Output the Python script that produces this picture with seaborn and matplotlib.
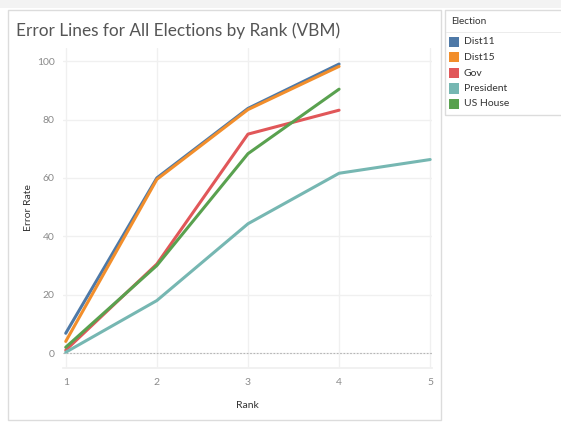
import numpy as np
import pandas as pd
import matplotlib
matplotlib.use("Agg")
import matplotlib.pyplot as plt
from matplotlib.patches import Rectangle
import seaborn as sns

# ----------------------------
# Data
# ----------------------------
elections = ["Dist11", "Dist15", "Gov", "President", "US House"]
ranks = [1, 2, 3, 4, 5]
dist11 = [6.8, 60.0, 83.8, 99.0]
dist15 = [4.0, 59.5, 83.4, 98.2]
gov = [1.0, 30.5, 75.0, 83.2]
president = [0.3, 18.0, 44.3, 61.6, 66.3]
us_house = [2.0, 30.0, 68.3, 90.4]

colors = ["#4e79a7", "#f28e2b", "#e15759", "#76b7b2", "#59a14f"]

series = [dist11, dist15, gov, president, us_house]
rows = []
for name, vals in zip(elections, series):
    for r, v in zip(ranks, vals):
        rows.append({"Election": name, "Rank": r, "Error Rate": v})
df = pd.DataFrame(rows)
palette = dict(zip(elections, colors))

# ----------------------------
# Plot
# ----------------------------
sns.set_theme(style="white")
plt.rcParams["font.family"] = ["Lato", "DejaVu Sans"]

W, H = 561, 423
fig = plt.figure(figsize=(W / 100, H / 100), dpi=100)
fig.patch.set_facecolor("white")

# card outlines
fig.patches.append(Rectangle((0, 1 - 8 / H), 1, 8 / H, transform=fig.transFigure,
                             facecolor="#f3f3f3", edgecolor="none", zorder=0))
fig.patches.append(Rectangle((7.5 / W, 1 - 419.5 / H), 433 / W, 409.5 / H, transform=fig.transFigure,
                             facecolor="none", edgecolor="#dcdcdc", lw=1, zorder=0))
fig.patches.append(Rectangle((445 / W, 1 - 115 / H), 120 / W, 105 / H, transform=fig.transFigure,
                             facecolor="none", edgecolor="#dcdcdc", lw=1, zorder=0))
fig.patches.append(Rectangle((446 / W, 1 - 33 / H), 118 / W, 1.2 / H, transform=fig.transFigure,
                             facecolor="#ececec", edgecolor="none", zorder=0))

ax = fig.add_axes([63 / W, 1 - 368 / H, (432 - 63) / W, (368 - 48) / H], zorder=2)
ax.set_facecolor("none")
sns.lineplot(data=df, x="Rank", y="Error Rate", hue="Election", hue_order=elections,
             palette=palette, linewidth=2.2, ax=ax, legend=False)

ax.set_xlim(0.97, 5.02)
ax.set_ylim(-5.1, 104.5)
ax.set_xticks(ranks)
ax.set_yticks([0, 20, 40, 60, 80, 100])
ax.grid(True, color="#f0f0f0", lw=1)
ax.axhline(0, color="#b5b5b5", lw=0.8, ls=(0, (1.5, 1.5)), zorder=1)
for s in ["top", "left", "right"]:
    ax.spines[s].set_visible(False)
ax.spines["bottom"].set_color("#f0f0f0")
ax.tick_params(axis="y", length=0, labelsize=7.5, labelcolor="#8a8a8a", pad=6)
ax.tick_params(axis="x", length=0, labelsize=7.5, labelcolor="#8a8a8a", pad=7)
ax.set_xlabel("Rank", fontsize=7.5, color="#333333")
ax.set_ylabel("Error Rate", fontsize=7.5, color="#333333")
ax.xaxis.set_label_coords(0.5, -0.103)
ax.yaxis.set_label_coords(-0.08, 0.5)

fig.text(16 / W, 1 - 31 / H, "Error Lines for All Elections by Rank (VBM)",
         fontsize=12.4, color="#555555", va="center", ha="left")

# legend
fig.text(451 / W, 1 - 21 / H, "Election", fontsize=7.2, color="#333333", va="center")
for i, (name, c) in enumerate(zip(elections, colors)):
    yc = 42 + i * 15.5
    fig.patches.append(Rectangle((449 / W, 1 - (yc + 5) / H), 10 / W, 10 / H,
                                 transform=fig.transFigure, facecolor=c, edgecolor="none"))
    fig.text(464 / W, 1 - yc / H, name, fontsize=7.5, color="#333333", va="center")

fig.savefig("out.png", dpi=100)
